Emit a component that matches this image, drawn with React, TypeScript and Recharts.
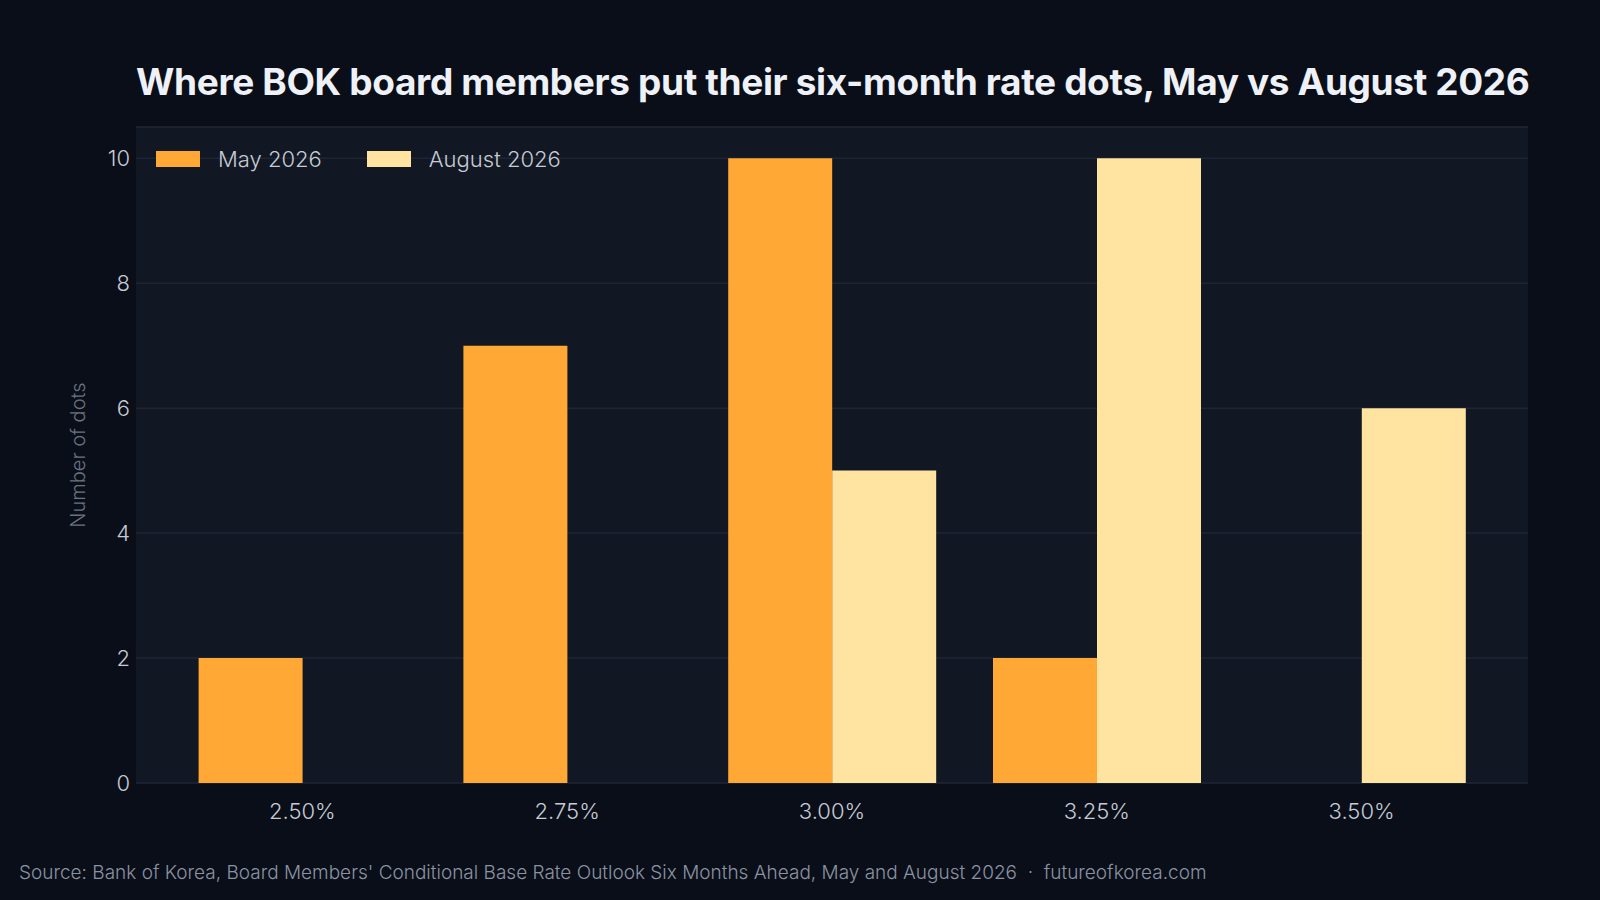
import { BarChart, Bar, XAxis, YAxis, CartesianGrid, Legend, Label } from "recharts";

const rates = ["2.50%", "2.75%", "3.00%", "3.25%", "3.50%"];
const may2026 = [2, 7, 10, 2, 0];
const aug2026 = [0, 0, 5, 10, 6];
const yTicks = [0, 2, 4, 6, 8, 10];
const seriesOrder = ["may", "aug"];

const data = rates.map((rate, i) => ({ rate, may: may2026[i], aug: aug2026[i] }));

const FONT = "Inter, 'Noto Sans', sans-serif";
const MAY_COLOR = "#ffa835";
const AUG_COLOR = "#ffe4a1";

function LegendRow({ payload }: any) {
  const items = [...(payload || [])].sort(
    (a: any, b: any) => seriesOrder.indexOf(a.dataKey) - seriesOrder.indexOf(b.dataKey)
  );
  return (
    <div style={{ display: "flex", alignItems: "center", fontFamily: FONT, fontSize: 22, fontWeight: 300, color: "#c6cbd5" }}>
      {items.map((item: any) => (
        <div key={item.value} style={{ display: "flex", alignItems: "center", marginRight: 45 }}>
          <span style={{ width: 44, height: 16, background: item.color, marginRight: 18, display: "inline-block" }} />
          <span>{item.value}</span>
        </div>
      ))}
    </div>
  );
}

export default function App() {
  return (
    <div style={{ position: "fixed", left: 0, top: 0, width: 1600, height: 900, background: "#0a0e18", overflow: "hidden" }}>
      <div
        style={{
          position: "absolute",
          left: 136,
          width: 1392,
          top: 60,
          textAlign: "center",
          fontFamily: FONT,
          fontWeight: 700,
          fontSize: 37,
          lineHeight: "44px",
          color: "#eef1f7",
          letterSpacing: -0.35,
          whiteSpace: "nowrap"
        }}
      >
        Where BOK board members put their six-month rate dots, May vs August 2026
      </div>

      <BarChart
        width={1600}
        height={900}
        data={data}
        margin={{ top: 127, right: 72, left: 76, bottom: 77 }}
        barCategoryGap="10.8%"
        barGap={0}
      >
        <CartesianGrid vertical={false} stroke="#1f2633" strokeWidth={1.5} fill="#111723" />
        <XAxis
          dataKey="rate"
          height={40}
          padding={{ left: 34, right: 34 }}
          axisLine={false}
          tickLine={false}
          tickSize={0}
          tickMargin={20}
          tick={{ fill: "#c6cbd5", fontSize: 22, fontFamily: FONT, fontWeight: 300 }}
        />
        <YAxis
          width={60}
          domain={[0, 10.5]}
          ticks={yTicks}
          axisLine={false}
          tickLine={false}
          tickSize={0}
          tickMargin={6}
          tick={{ fill: "#c6cbd5", fontSize: 22, fontFamily: FONT, fontWeight: 300 }}
        >
          <Label
            value="Number of dots"
            angle={-90}
            position="insideLeft"
            offset={2}
            style={{ textAnchor: "middle", fill: "#6b7280", fontSize: 20, fontFamily: FONT, fontWeight: 300 }}
          />
        </YAxis>
        <Legend
          verticalAlign="middle"
          align="center"
          layout="horizontal"
          itemSorter={null as any}
          content={<LegendRow />}
          wrapperStyle={{ left: 156, top: 146, width: 700 }}
        />
        <Bar dataKey="may" name="May 2026" fill={MAY_COLOR} isAnimationActive={false} />
        <Bar dataKey="aug" name="August 2026" fill={AUG_COLOR} isAnimationActive={false} />
      </BarChart>

      <div
        style={{
          position: "absolute",
          left: 19,
          top: 861,
          fontFamily: FONT,
          fontSize: 19,
          fontWeight: 300,
          color: "#8a93a3",
          whiteSpace: "pre"
        }}
      >
        {"Source: Bank of Korea, Board Members' Conditional Base Rate Outlook Six Months Ahead, May and August 2026  ·  futureofkorea.com"}
      </div>
    </div>
  );
}
